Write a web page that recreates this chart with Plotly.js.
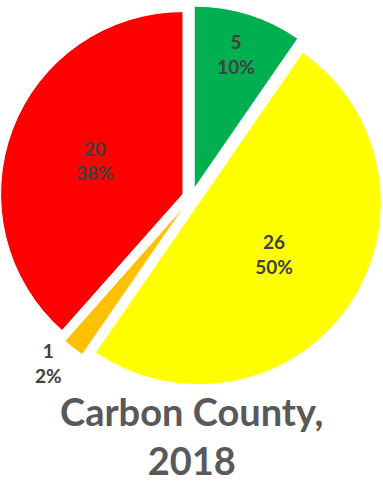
<!DOCTYPE html>
<html><head><meta charset="utf-8">
<script src="https://cdn.plot.ly/plotly-3.0.1.min.js"></script>
<style>html,body{margin:0;padding:0;background:#fff}#c{width:383px;height:487px}</style>
</head><body><div id="c"></div>
<script>
const categories = ['Green', 'Yellow', 'Orange', 'Red'];
const counts = [5, 26, 1, 20];
const percents = ['10%', '50%', '2%', '38%'];
const colors = ['#00B050', '#FFFF00', '#FFC000', '#FF0000'];
const titleLines = ['Carbon County,', '2018'];

const textFont = {family: 'Lato, sans-serif', size: 19, color: '#404040', weight: 'bold'};
Plotly.newPlot('c', [{
  type: 'pie',
  labels: categories,
  values: counts,
  text: percents,
  texttemplate: '<b>%{value}<br>%{text}</b>',
  textposition: ['inside', 'inside', 'outside', 'inside'],
  insidetextorientation: 'horizontal',
  textfont: textFont,
  insidetextfont: textFont,
  outsidetextfont: textFont,
  marker: {colors: colors, line: {color: '#fff', width: 1}},
  sort: false,
  direction: 'clockwise',
  rotation: 0,
  pull: 0.05,
  hoverinfo: 'none',
  domain: {x: [0, 1], y: [0.2, 0.99]}
}], {
  width: 383, height: 487,
  margin: {l: 0, r: 0, t: 0, b: 0},
  showlegend: false,
  paper_bgcolor: '#fff',
  annotations: [{
    text: '<b>' + titleLines.join('<br>') + '</b>',
    xref: 'paper', yref: 'paper', x: 0.5, y: 0.207, xanchor: 'center', yanchor: 'top',
    showarrow: false,
    font: {family: 'Lato, sans-serif', size: 38, color: '#595959'}
  }]
}, {displayModeBar: false, staticPlot: true});
</script></body></html>
